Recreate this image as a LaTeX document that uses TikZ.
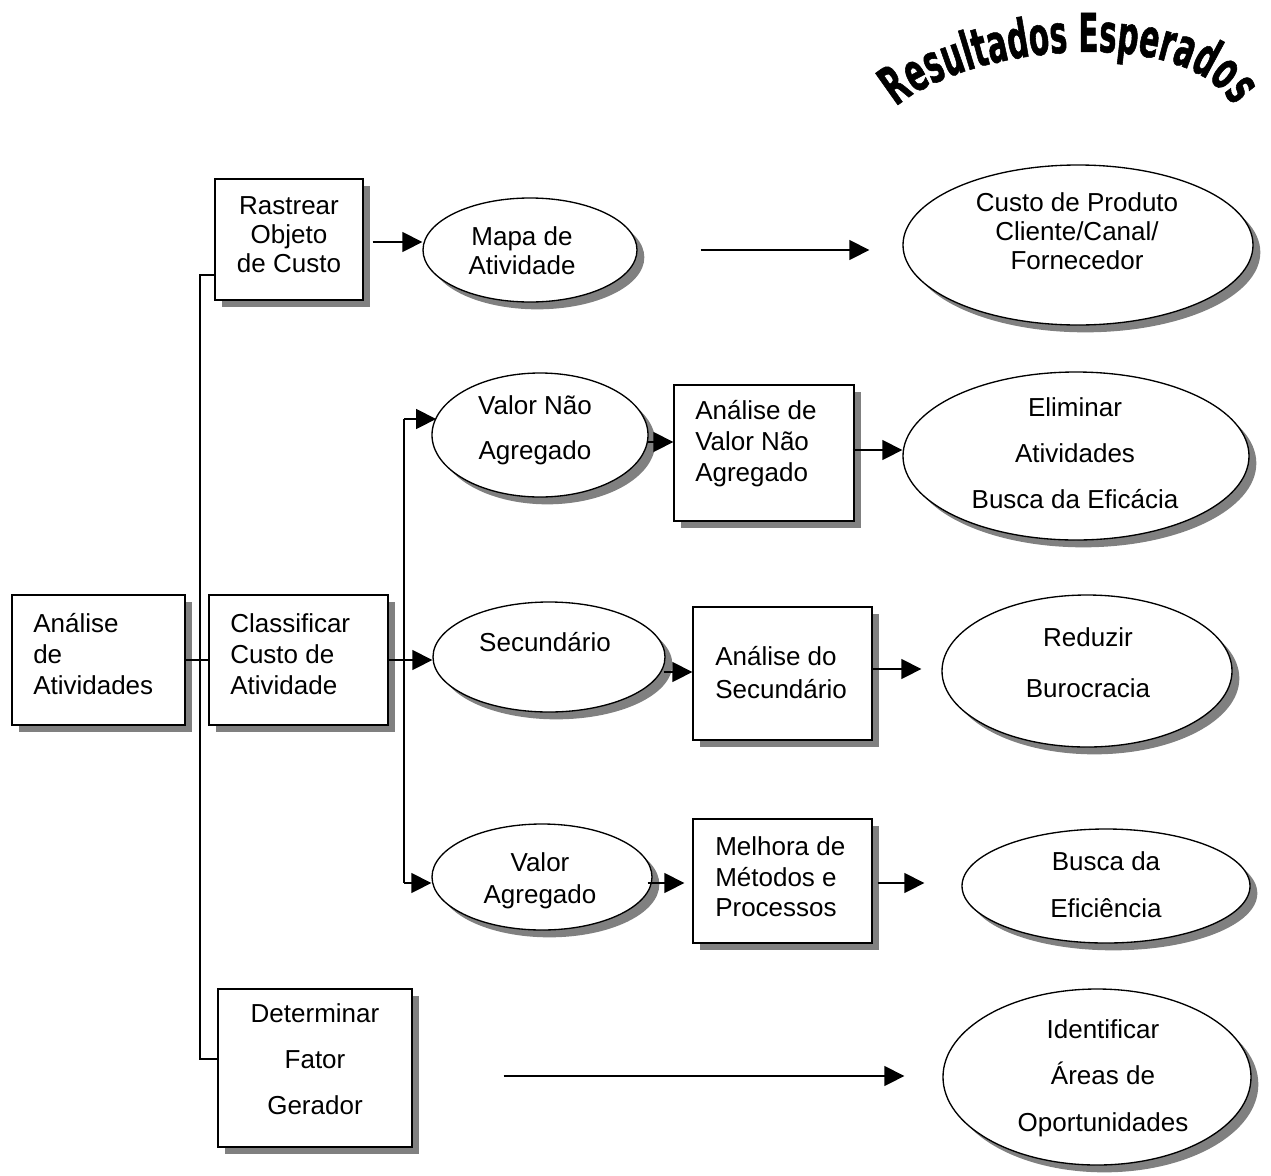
\documentclass[tikz,border=0pt]{standalone}
\usepackage{fontspec}
\setmainfont{Liberation Sans}
\newfontfamily\titlefont[FakeStretch=0.55,FakeBold=1]{DejaVu Sans Bold}
\usetikzlibrary{shapes.geometric,shadows,arrows.meta,calc,decorations.text}

\tikzset{
  shade/.style={drop shadow={shadow xshift=5.5pt,shadow yshift=-5.5pt,fill=black!50,opacity=1}},
  box/.style 2 args={draw,line width=1pt,fill=white,inner sep=0pt,shade,
    minimum width=#1*0.75pt,minimum height=#2*0.75pt},
  oval/.style 2 args={ellipse,draw,line width=1pt,fill=white,inner sep=0pt,shade,
    minimum width=#1*0.75pt,minimum height=#2*0.75pt},
  lbl/.style={inner sep=0pt,align=center,font=\fontsize{19.5pt}{#1}\selectfont},
  lbl/.default=22.5pt,
  lbll/.style={inner sep=0pt,align=left,anchor=west,font=\fontsize{19.5pt}{#1}\selectfont},
  lbll/.default=22.5pt,
  conn/.style={line width=1.1pt},
  arr/.style={conn,-{Triangle[length=15pt,width=15pt]}}
}

\begin{document}
\begin{tikzpicture}[x=0.75pt,y=0.75pt]
\useasboundingbox (0,0) rectangle (1271,-1175);

% heading set along an arch
\path[decorate,decoration={text along path,text align=center,
  text={|\titlefont\fontsize{40pt}{40pt}\selectfont|Resultados Esperados}}]
  (885,-118) .. controls (945,-45) and (1205,-15) .. (1240,-120);

% rectangular steps
\node[box={173}{130}] (ana)  at (98.5,-660)  {};
\node[box={179}{130}] (cla)  at (298.5,-660) {};
\node[box={148}{121}] (ras)  at (289,-239.5) {};
\node[box={194}{158}] (det)  at (315,-1068)  {};
\node[box={180}{136}] (avna) at (764,-453)   {};
\node[box={179}{133}] (asec) at (782.5,-673.5) {};
\node[box={179}{124}] (mel)  at (782.5,-881) {};

% elliptical outcomes
\node[oval={214}{104}] (mapa) at (530,-250)  {};
\node[oval={350}{160}] (cpc)  at (1078,-245) {};
\node[oval={216}{124}] (vna)  at (540,-435)  {};
\node[oval={232}{110}] (sec)  at (549,-657)  {};
\node[oval={220}{106}] (va)   at (542,-877)  {};
\node[oval={346}{168}] (eli)  at (1076,-456) {};
\node[oval={290}{152}] (red)  at (1087,-671) {};
\node[oval={288}{114}] (bde)  at (1106,-886) {};
\node[oval={308}{176}] (iao)  at (1097,-1077) {};

% first trunk
\coordinate (t1) at (200,-275);
\coordinate (t2) at (200,-1059);
\draw[conn] (ras.west |- t1) -- (t1) -- (t2) -- (det.west |- t2);
\draw[conn] (ana.east) -- (cla.west);

\coordinate (r1) at ($(ras.east)+(9,-2.5)$);
\draw[arr] (r1) -- (r1 -| mapa.west);
\coordinate (m1) at ($(mapa.east)+(63,0)$);
\coordinate (m2) at ($(cpc.west)+(-33,-5)$);
\draw[arr] (m1) -- (m1 -| m2);

% second trunk
\coordinate (u1) at (404,-419);
\coordinate (u2) at (404,-883);
\draw[conn] (u1) -- (u2);
\draw[arr] (u1) -- (u1 -| vna.170);
\draw[arr] (u2) -- (u2 -| va.west);
\draw[arr] (cla.east) -- (cla.east -| sec.west);

\coordinate (v1) at ($(vna.east)+(-2,-7)$);
\draw[arr] (v1) -- (v1 -| avna.west);
\coordinate (v2) at ($(avna.east)+(-2,3)$);
\draw[arr] (v2) -- (v2 -| eli.west);

\coordinate (s1) at ($(sec.east)+(-2,-15)$);
\draw[arr] (s1) -- (s1 -| asec.west);
\coordinate (s2) at ($(asec.east)+(0,4.5)$);
\coordinate (s3) at ($(red.west)+(-20,0)$);
\draw[arr] (s2) -- (s2 -| s3);

\coordinate (w1) at ($(va.east)+(-5,-6)$);
\coordinate (w2) at ($(mel.west)+(-8,0)$);
\draw[arr] (w1) -- (w1 -| w2);
\coordinate (w3) at ($(mel.east)+(5,-2)$);
\coordinate (w4) at ($(bde.west)+(-37,0)$);
\draw[arr] (w3) -- (w3 -| w4);

\coordinate (d1) at ($(det.east)+(91,-8)$);
\coordinate (d2) at ($(iao.west)+(-38,0)$);
\draw[arr] (d1) -- (d1 -| d2);

% labels
\node[lbll=23.25pt] (anaT)  at (33,-654)  {Análise\\de\\Atividades};
\node[lbll=23.25pt] (claT)  at (230,-654) {Classificar\\Custo de\\Atividade};
\node[lbl=21.75pt]  (rasT)  at (289,-235) {Rastrear\\Objeto\\de Custo};
\node[lbl=21.75pt]  (mapaT) at (522,-251) {Mapa de\\Atividade};
\node[lbl=21.75pt]  (cpcT)  at (1077,-231) {Custo de Produto\\Cliente/Canal/\\Fornecedor};
\node[lbl=33.75pt]  (vnaT)  at (535,-430) {Valor Não\\Agregado};
\node[lbll=23.25pt] (avnaT) at (695,-444) {Análise de\\Valor Não\\Agregado};
\node[lbl=34.5pt]   (eliT)  at (1075,-453) {Eliminar\\Atividades\\Busca da Eficácia};
\node[lbl]          (secT)  at (545,-642) {Secundário};
\node[lbll=24.75pt] (asecT) at (715,-673) {Análise do\\Secundário};
\node[lbl=38.25pt]  (redT)  at (1088,-663) {Reduzir\\Burocracia};
\node[lbl=24pt]     (vaT)   at (540,-881) {Valor\\Agregado};
\node[lbll=22.9pt]  (melT)  at (715,-877) {Melhora de\\Métodos e\\Processos};
\node[lbl=35.25pt]  (bdeT)  at (1106,-885) {Busca da\\Eficiência};
\node[lbl=34.5pt]   (detT)  at (315,-1059) {Determinar\\Fator\\Gerador};
\node[lbl=35pt]     (iaoT)  at (1103,-1078) {Identificar\\Áreas de\\Oportunidades};
\end{tikzpicture}
\end{document}
